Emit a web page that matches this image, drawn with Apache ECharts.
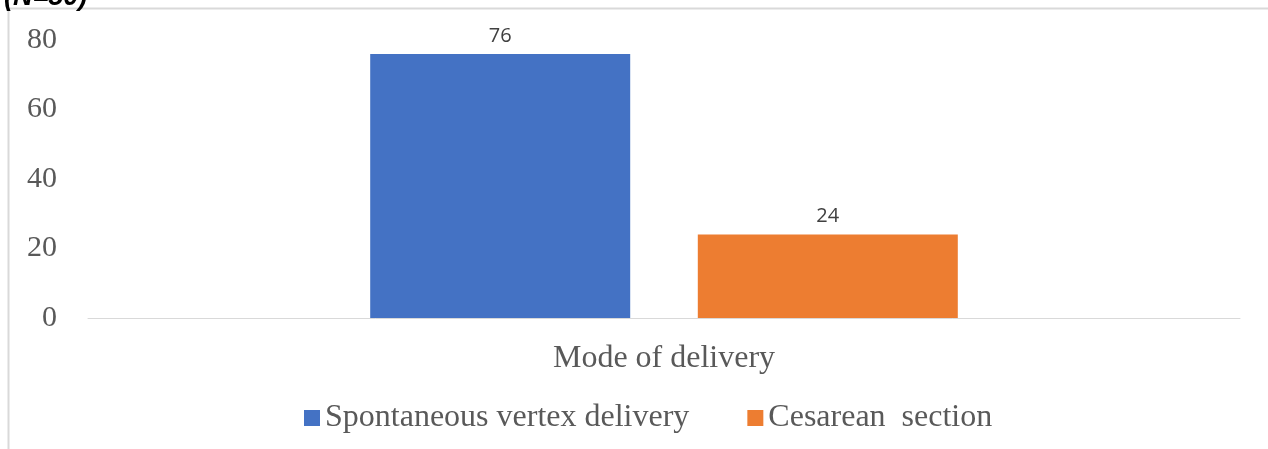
<!DOCTYPE html>
<html>
<head>
<meta charset="utf-8">
<script src="https://cdn.jsdelivr.net/npm/echarts@6/dist/echarts.min.js"></script>
<style>
html,body{margin:0;padding:0;background:#fff;}
#chart{width:1268px;height:449px;}
</style>
</head>
<body>
<div id="chart"></div>
<script>
var categories = ['Mode of delivery'];
var seriesNames = ['Spontaneous vertex delivery', 'Cesarean  section'];
var spontaneous = [76];
var cesarean = [24];
var colors = ['#4472C4', '#ED7D31'];

var myChart = echarts.init(document.getElementById('chart'));

var option = {
    animation: false,
    graphic: [
        // outer frame of the figure, clipped at right/bottom
        {type: 'rect', shape: {x: 8.5, y: 8.5, width: 1300, height: 500},
            style: {fill: 'none', stroke: '#d9d9d9', lineWidth: 2}},
        {type: 'text', left: 4, top: -16,
            style: {text: '(N=50)', font: 'italic bold 27px "Liberation Sans"', fill: '#000'}}
    ],
    grid: {left: 88, right: 28, top: 40, bottom: 131},
    legend: {
        bottom: 10,
        left: 299,
        itemWidth: 16,
        itemHeight: 16,
        itemGap: 58,
        icon: 'rect',
        textStyle: {fontFamily: 'Liberation Serif', fontSize: 32, color: '#595959'},
        data: seriesNames
    },
    xAxis: {
        type: 'category',
        data: categories,
        axisLine: {lineStyle: {color: '#d9d9d9', width: 1}},
        axisTick: {show: false},
        axisLabel: {fontFamily: 'Liberation Serif', fontSize: 32, color: '#595959', margin: 25}
    },
    yAxis: {
        type: 'value',
        min: 0,
        max: 80,
        interval: 20,
        splitLine: {show: false},
        axisLine: {show: false},
        axisTick: {show: false},
        axisLabel: {fontFamily: 'Liberation Serif', fontSize: 30, color: '#595959', margin: 31}
    },
    series: [
        {
            name: seriesNames[0],
            type: 'bar',
            data: spontaneous,
            barWidth: 260,
            barGap: '26%',
            itemStyle: {color: colors[0]},
            label: {show: true, position: 'top', distance: 8, fontFamily: 'Open Sans', fontSize: 20, color: '#404040'}
        },
        {
            name: seriesNames[1],
            type: 'bar',
            data: cesarean,
            barWidth: 260,
            barGap: '26%',
            itemStyle: {color: colors[1]},
            label: {show: true, position: 'top', distance: 8, fontFamily: 'Open Sans', fontSize: 20, color: '#404040'}
        }
    ]
};

myChart.setOption(option);
</script>
</body>
</html>
